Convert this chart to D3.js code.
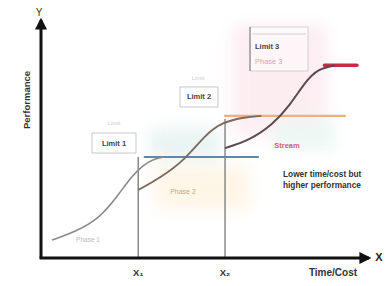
<!DOCTYPE html>
<html>
<head>
<meta charset="utf-8">
<script src="https://cdn.jsdelivr.net/npm/d3@7"></script>
<style>
  body { margin: 0; background: #fff; }
  svg { display: block; font-family: "Liberation Sans", Arial, sans-serif; }
</style>
</head>
<body>
<div id="chart"></div>
<script>
var width = 392,
  height = 286;

// s-curves, in axis units (0..10 on both axes)
var curve1 = [[0.34, 0.79], [1.05, 1.14], [1.82, 1.75], [2.38, 2.76], [2.81, 3.6], [3.15, 4.08], [3.5, 4.35], [3.8, 4.43]];
var curve2 = [[3.0, 2.98], [3.67, 3.51], [4.44, 4.3], [5.06, 5.39], [5.59, 5.96], [6.3, 6.18], [6.8, 6.23]];
var curve3 = [[5.68, 4.82], [6.45, 5.18], [7.13, 5.83], [7.69, 6.71], [8.15, 7.72], [8.55, 8.3], [9.07, 8.45]];
// plateaus: [xStart, xEnd, level]
var plateaus = [[3.2, 6.7, 4.43], [5.68, 9.38, 6.23], [8.75, 9.75, 8.45]];
var plateauColors = ["#5f85b0", "#f0b07a", "#c92a45"];
var markers = [3.0, 5.68];
var markerLabels = ["X\u2081", "X\u2082"];

var svg = d3.select("#chart")
  .append("svg")
  .attr("width", width)
  .attr("height", height);

var xScale = d3.scaleLinear().domain([0, 10]).range([41, 365]);
var yScale = d3.scaleLinear().domain([0, 10]).range([258, 30]);

var defs = svg.append("defs");
defs.append("filter").attr("id", "soft")
  .attr("x", "-50%").attr("y", "-50%").attr("width", "200%").attr("height", "200%")
  .append("feGaussianBlur").attr("stdDeviation", 8);

defs.append("marker")
  .attr("id", "arrow")
  .attr("viewBox", "0 0 10 10")
  .attr("refX", 8).attr("refY", 5)
  .attr("markerWidth", 4).attr("markerHeight", 4)
  .attr("orient", "auto")
  .append("path")
  .attr("d", "M0,0L10,5L0,10z")
  .attr("fill", "#111");

// soft pastel patches behind the curves
var blobs = svg.append("g").attr("filter", "url(#soft)").attr("opacity", 0.7);
blobs.append("rect").attr("x", 150).attr("y", 128).attr("width", 70).attr("height", 32).attr("fill", "#dff0ee");
blobs.append("rect").attr("x", 155).attr("y", 165).attr("width", 95).attr("height", 45).attr("fill", "#fdf3de");
blobs.append("rect").attr("x", 232).attr("y", 25).attr("width", 95).attr("height", 110).attr("fill", "#fbe6ec");
blobs.append("rect").attr("x", 275).attr("y", 120).attr("width", 60).attr("height", 30).attr("fill", "#e4f4ee");

// marker verticals
var vTops = [yScale(4.43), yScale(6.1)];
svg.selectAll(".vline")
  .data(markers)
  .enter().append("line")
  .attr("x1", function(d) { return xScale(d); })
  .attr("x2", function(d) { return xScale(d); })
  .attr("y1", yScale(0))
  .attr("y2", function(d, i) { return vTops[i]; })
  .attr("stroke", "#6b6b6b")
  .attr("stroke-width", 1.2);

// plateaus
svg.selectAll(".plateau")
  .data(plateaus)
  .enter().append("line")
  .attr("x1", function(d) { return xScale(d[0]); })
  .attr("x2", function(d) { return xScale(d[1]); })
  .attr("y1", function(d) { return yScale(d[2]); })
  .attr("y2", function(d) { return yScale(d[2]); })
  .attr("stroke", function(d, i) { return plateauColors[i]; })
  .attr("stroke-width", function(d, i) { return i == 2 ? 3.5 : 2.2; })
  .attr("stroke-linecap", "round");

var line = d3.line()
  .x(function(d) { return xScale(d[0]); })
  .y(function(d) { return yScale(d[1]); })
  .curve(d3.curveBasis);

svg.append("path").attr("d", line(curve1)).attr("fill", "none").attr("stroke", "#8a8a8a").attr("stroke-width", 1.6);
svg.append("path").attr("d", line(curve2)).attr("fill", "none").attr("stroke", "#7e675c").attr("stroke-width", 1.8);
svg.append("path").attr("d", line(curve3)).attr("fill", "none").attr("stroke", "#5c4a50").attr("stroke-width", 2);

// axes
svg.append("line")
  .attr("x1", xScale(0)).attr("y1", yScale(0))
  .attr("x2", xScale(0)).attr("y2", yScale(10) - 10)
  .attr("stroke", "#111").attr("stroke-width", 3)
  .attr("marker-end", "url(#arrow)");
svg.append("line")
  .attr("x1", xScale(0) - 1.5).attr("y1", yScale(0))
  .attr("x2", xScale(10) + 4).attr("y2", yScale(0))
  .attr("stroke", "#111").attr("stroke-width", 3)
  .attr("marker-end", "url(#arrow)");

svg.append("text").attr("x", xScale(0) - 2).attr("y", 16).attr("font-size", 10).attr("fill", "#333").attr("text-anchor", "middle").text("Y");
svg.append("text").attr("x", 379).attr("y", 261).attr("font-size", 11).attr("font-weight", "bold").attr("fill", "#222").attr("text-anchor", "middle").text("X");
svg.append("text")
  .attr("transform", "translate(30,100) rotate(-90)")
  .attr("font-size", 9.5).attr("font-weight", "bold").attr("fill", "#333")
  .attr("text-anchor", "middle").text("Performance");
svg.append("text").attr("x", 333).attr("y", 276).attr("font-size", 10).attr("font-weight", "bold").attr("fill", "#333").attr("text-anchor", "middle").text("Time/Cost");

svg.selectAll(".xlab")
  .data(markers)
  .enter().append("text")
  .attr("x", function(d) { return xScale(d); })
  .attr("y", 276)
  .attr("font-size", 9.5).attr("font-weight", "bold").attr("fill", "#333")
  .attr("text-anchor", "middle")
  .text(function(d, i) { return markerLabels[i]; });

// limit boxes
function box(x, y, w, h) {
  svg.append("rect").attr("x", x).attr("y", y).attr("width", w).attr("height", h)
    .attr("fill", "#fff").attr("fill-opacity", 0.6)
    .attr("stroke", "#bbb").attr("stroke-width", 0.8);
}
box(92, 133, 44, 20);
svg.append("text").attr("x", 114).attr("y", 146).attr("font-size", 7.5).attr("font-weight", "bold").attr("fill", "#444").attr("text-anchor", "middle").text("Limit 1");
svg.append("text").attr("x", 114).attr("y", 125).attr("font-size", 6).attr("fill", "#ccc").attr("text-anchor", "middle").text("Limit");

box(180, 87, 38, 20);
svg.append("text").attr("x", 199).attr("y", 99).attr("font-size", 7.5).attr("font-weight", "bold").attr("fill", "#444").attr("text-anchor", "middle").text("Limit 2");
svg.append("text").attr("x", 198).attr("y", 80).attr("font-size", 6).attr("fill", "#ccc").attr("text-anchor", "middle").text("Limit");

svg.append("rect").attr("x", 250).attr("y", 27).attr("width", 58).attr("height", 44)
  .attr("fill", "#fff").attr("fill-opacity", 0.5).attr("stroke", "#c8c8c8").attr("stroke-width", 0.8);
svg.append("line").attr("x1", 250).attr("x2", 250).attr("y1", 27).attr("y2", 71).attr("stroke", "#777").attr("stroke-width", 1);
svg.append("line").attr("x1", 252).attr("x2", 306).attr("y1", 34).attr("y2", 34).attr("stroke", "#bbb").attr("stroke-width", 0.6);
svg.append("text").attr("x", 255).attr("y", 49).attr("font-size", 7.5).attr("font-weight", "bold").attr("fill", "#444").text("Limit 3");
svg.append("text").attr("x", 255).attr("y", 64).attr("font-size", 7.5).attr("fill", "#e8a0b0").text("Phase 3");

// curve labels
svg.append("text").attr("x", 88).attr("y", 242).attr("font-size", 6.5).attr("fill", "#bbb").attr("text-anchor", "middle").text("Phase 1");
svg.append("text").attr("x", 183).attr("y", 194).attr("font-size", 7).attr("fill", "#c9a878").attr("text-anchor", "middle").text("Phase 2");
svg.append("text").attr("x", 287).attr("y", 148).attr("font-size", 7.5).attr("font-weight", "bold").attr("fill", "#d06078").attr("text-anchor", "middle").text("Stream");

svg.append("text").attr("x", 283).attr("y", 177).attr("font-size", 8.3).attr("font-weight", "bold").attr("fill", "#333").text("Lower time/cost but");
svg.append("text").attr("x", 283).attr("y", 188).attr("font-size", 8.3).attr("font-weight", "bold").attr("fill", "#333").text("higher performance");
</script>
</body>
</html>
